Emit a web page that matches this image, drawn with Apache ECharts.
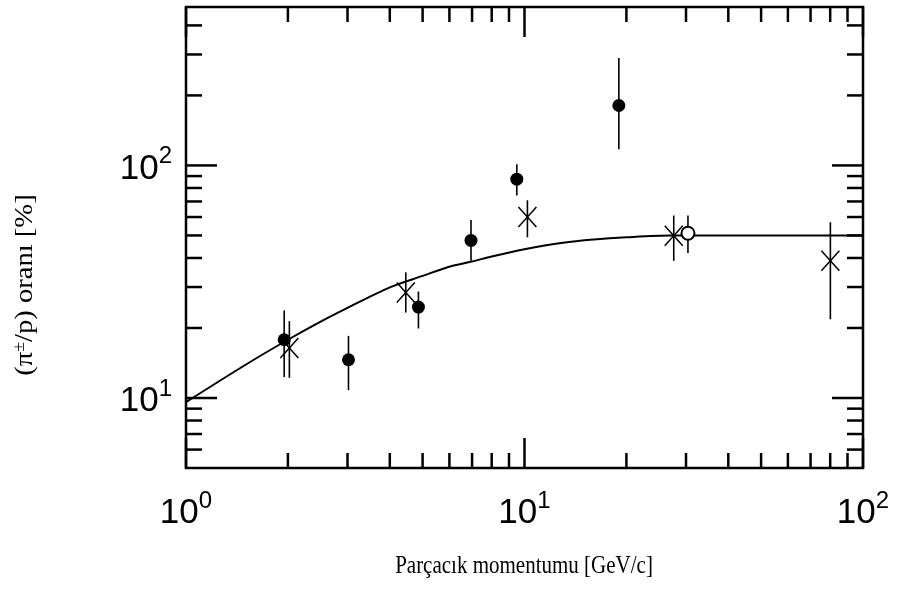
<!DOCTYPE html>
<html><head><meta charset="utf-8">
<script src="https://cdn.jsdelivr.net/npm/echarts@6/dist/echarts.min.js"></script>
<style>html,body{margin:0;padding:0;background:#fff}#c{width:901px;height:592px}</style>
</head><body><div id="c"></div>
<script>
// ---- data ----
const dotX = [1.95, 3.02, 4.86, 6.95, 9.49, 19.0];
const dotY = [17.8, 14.6, 24.6, 47.6, 87.3, 181];
const dotLow = [12.3, 10.8, 19.9, 38.9, 74.3, 117.5];
const dotHigh = [23.8, 18.5, 28.7, 58.3, 101.3, 290];
const crossX = [2.02, 4.46, 10.2, 27.6, 80.1];
const crossY = [16.4, 28.4, 60, 49.9, 38.9];
const crossLow = [12.2, 23.3, 49.1, 38.9, 21.8];
const crossHigh = [21.4, 34.7, 70.8, 60.9, 57];
const openX = [30.4];
const openY = [51.1];
const openLow = [42];
const openHigh = [60.9];
const curveX = [1, 1.5, 2, 2.5, 3, 4, 5, 6, 7, 8, 10, 13, 16, 20, 27, 40, 60, 100];
const curveY = [9.6, 13.9, 17.8, 21.3, 24.4, 29.9, 33.5, 36.7, 38.6, 40.6, 43.6, 46.5, 48, 49.1, 50, 50, 50, 50];
const xMajorTicks = [1, 10, 100];
const xMinorTicks = [2, 3, 4, 5, 6, 7, 8, 9, 20, 30, 40, 50, 60, 70, 80, 90];
const yMajorTicks = [10, 100];
const yMinorTicks = [6, 7, 8, 9, 20, 30, 40, 50, 60, 70, 80, 90, 200, 300, 400];
const xRange = [1, 100];
const yRange = [5, 480];
const xTitle = 'Parçacık momentumu [GeV/c]';
const yTitle = '(π{s|±}/p) oranı [%]';

// ---- chart ----
const chart = echarts.init(document.getElementById('c'), null, {renderer: 'canvas'});
const INK = '#000';

function isPow10(v) { const l = Math.log10(v); return Math.abs(l - Math.round(l)) < 1e-6; }
function powLabel(v) { return isPow10(v) ? '{b|10}{s|' + Math.round(Math.log10(v)) + '}' : ''; }

function tickSeries(values, axis, len) {
  return {
    type: 'custom', silent: true, clip: false, z: 6,
    data: values.map(v => axis === 'x' ? [v, 10] : [10, v]),
    renderItem: function (params, api) {
      const cs = params.coordSys;
      const st = {stroke: INK, lineWidth: 2.5};
      if (axis === 'x') {
        const px = api.coord([api.value(0), 10])[0];
        const b = cs.y + cs.height;
        return {type: 'group', children: [
          {type: 'line', shape: {x1: px, y1: b, x2: px, y2: b - len}, style: st},
          {type: 'line', shape: {x1: px, y1: cs.y, x2: px, y2: cs.y + len}, style: st}
        ]};
      } else {
        const py = api.coord([10, api.value(1)])[1];
        const r = cs.x + cs.width;
        return {type: 'group', children: [
          {type: 'line', shape: {x1: cs.x, y1: py, x2: cs.x + len, y2: py}, style: st},
          {type: 'line', shape: {x1: r, y1: py, x2: r - len, y2: py}, style: st}
        ]};
      }
    }
  };
}

function errSeries(xs, lows, highs) {
  return {
    type: 'custom', silent: true, z: 4,
    data: xs.map((x, i) => [x, lows[i], highs[i]]),
    renderItem: function (params, api) {
      const p1 = api.coord([api.value(0), api.value(1)]);
      const p2 = api.coord([api.value(0), api.value(2)]);
      return {type: 'line', shape: {x1: p1[0], y1: p1[1], x2: p2[0], y2: p2[1]}, style: {stroke: INK, lineWidth: 1.6}};
    }
  };
}

const crossSeries = {
  type: 'custom', silent: true, z: 5,
  data: crossX.map((x, i) => [x, crossY[i]]),
  renderItem: function (params, api) {
    const p = api.coord([api.value(0), api.value(1)]);
    const hx = 9, hy = 10;
    const st = {stroke: INK, lineWidth: 1.5};
    return {type: 'group', children: [
      {type: 'line', shape: {x1: p[0] - hx, y1: p[1] - hy, x2: p[0] + hx, y2: p[1] + hy}, style: st},
      {type: 'line', shape: {x1: p[0] - hx, y1: p[1] + hy, x2: p[0] + hx, y2: p[1] - hy}, style: st}
    ]};
  }
};

const labelRich = {
  b: {fontFamily: 'Liberation Sans', fontSize: 35, color: INK, lineHeight: 42, verticalAlign: 'bottom'},
  s: {fontFamily: 'Liberation Sans', fontSize: 24, color: INK, lineHeight: 42, verticalAlign: 'top'}
};

const option = {
  animation: false,
  backgroundColor: '#fff',
  grid: {left: 186, right: 38, top: 7, bottom: 124, show: true, borderColor: INK, borderWidth: 2.5, backgroundColor: 'transparent'},
  xAxis: {
    type: 'log', logBase: 10, min: xRange[0], max: xRange[1],
    axisLine: {show: false}, axisTick: {show: false}, splitLine: {show: false}, minorTick: {show: false},
    axisLabel: {customValues: xMajorTicks, formatter: powLabel, margin: 21, rich: labelRich}
  },
  yAxis: {
    type: 'log', logBase: 10, min: yRange[0], max: yRange[1],
    axisLine: {show: false}, axisTick: {show: false}, splitLine: {show: false}, minorTick: {show: false},
    axisLabel: {customValues: yMajorTicks, formatter: powLabel, margin: 14, rich: labelRich}
  },
  graphic: [
    {type: 'text', x: 524, y: 566, scaleY: 1.2,
      style: {text: xTitle, fontSize: 21, fontFamily: 'Liberation Serif', fill: INK, textAlign: 'center', textVerticalAlign: 'middle'}},
    {type: 'text', x: 25, y: 285, rotation: Math.PI / 2, scaleX: 1.1,
      style: {text: yTitle, fontSize: 26, fontFamily: 'Liberation Serif', fill: INK, textAlign: 'center', textVerticalAlign: 'middle',
        rich: {s: {fontSize: 16, fontFamily: 'Liberation Serif', fill: INK, verticalAlign: 'top'}}}}
  ],
  series: [
    tickSeries(xMajorTicks, 'x', 30),
    tickSeries(xMinorTicks, 'x', 15),
    tickSeries(yMajorTicks, 'y', 31),
    tickSeries(yMinorTicks, 'y', 16),
    {type: 'line', data: curveX.map((x, i) => [x, curveY[i]]), smooth: 0.3, showSymbol: false, silent: true,
      lineStyle: {color: INK, width: 2}, z: 3},
    errSeries(dotX, dotLow, dotHigh),
    errSeries(crossX, crossLow, crossHigh),
    errSeries(openX, openLow, openHigh),
    {type: 'scatter', data: dotX.map((x, i) => [x, dotY[i]]), symbol: 'circle', symbolSize: 13, silent: true,
      itemStyle: {color: INK, opacity: 1}, z: 5},
    {type: 'scatter', data: openX.map((x, i) => [x, openY[i]]), symbol: 'emptyCircle', symbolSize: 13, silent: true,
      itemStyle: {color: INK, borderColor: INK, borderWidth: 1.6, opacity: 1}, z: 5},
    crossSeries
  ]
};
chart.setOption(option);
</script>
</body></html>
